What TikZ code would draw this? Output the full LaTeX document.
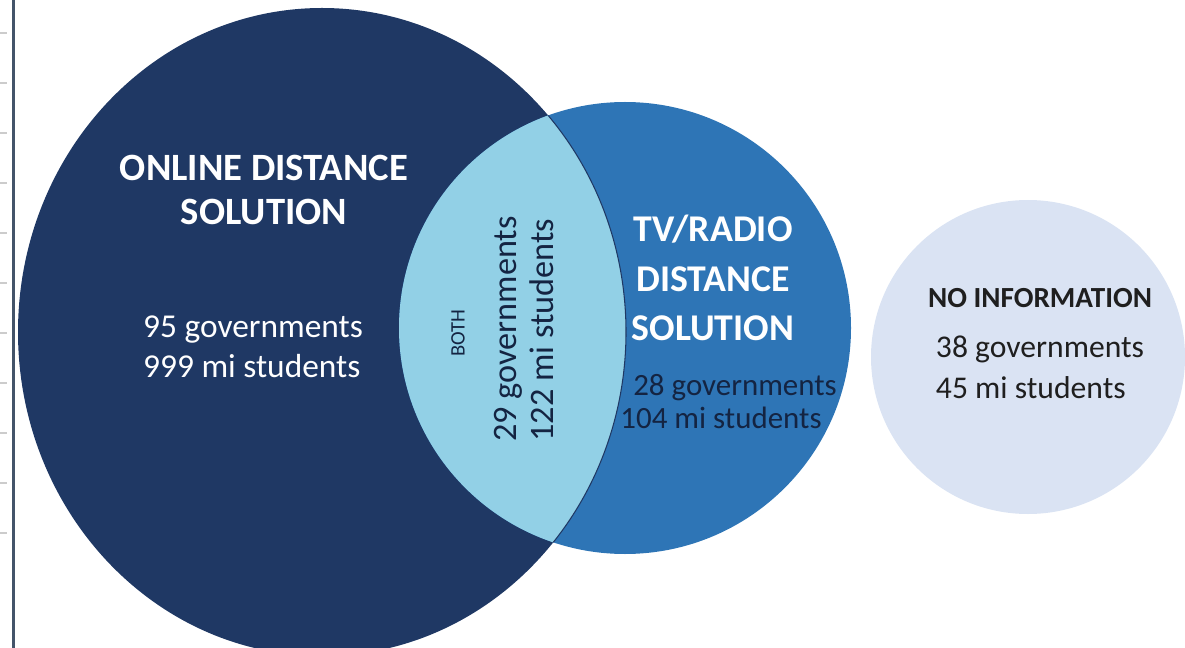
\documentclass[tikz,border=0pt]{standalone}
\usepackage{fontspec}
\setmainfont{Carlito}

\definecolor{online}{RGB}{31,56,100}
\definecolor{tvradio}{RGB}{46,117,182}
\definecolor{ambos}{RGB}{146,208,230}
\definecolor{seminfo}{RGB}{218,227,243}
\definecolor{margem}{RGB}{68,84,106}
\definecolor{tinta}{RGB}{20,36,66}

\tikzset{
  titulo/.style={inner sep=0pt, align=center, text=white,
    font=\bfseries\fontsize{22}{25.5}\selectfont},
  dados/.style={inner sep=0pt, align=left,
    font=\fontsize{19}{22.7}\selectfont},
}

\begin{document}
\begin{tikzpicture}[x=0.02cm, y=-0.02cm]
\useasboundingbox (0,0) rectangle (1185,648);
\clip (0,0) rectangle (1185,648);

% Margem da pagina
\draw[margem, line width=1.4pt] (13.5,0) -- (13.5,648);
\foreach \y in {33,83,...,533}
  \draw[black!20, line width=0.6pt] (0,\y) -- (7,\y);

% Circulo 1: solucao online
\fill[online] (322,332) ellipse [x radius=304, y radius=324];

% Circulo 2: TV/radio
\fill[tvradio] (625,328) circle [radius=226];

% Intersecao dos dois
\begin{scope}
  \clip (322,332) ellipse [x radius=304, y radius=324];
  \fill[ambos] (625,328) circle [radius=226];
\end{scope}
\begin{scope}
  \clip (625,328) circle [radius=226];
  \draw[online, line width=0.6pt] (322,332) ellipse [x radius=304, y radius=324];
\end{scope}

% Circulo 3: sem informacao
\fill[seminfo] (1028,357) circle [radius=157];

% Textos
\node[titulo] (onlinetit) at (264,190) {ONLINE DISTANCE\\SOLUTION};
\node[dados, text=white] (onlinedados) at (253,347) {95 governments\\999 mi students};

\node[inner sep=0pt, rotate=90, text=tinta, font=\fontsize{11.7}{12}\selectfont]
  (ambostit) at (458,333) {BOTH};
\node[dados, rotate=90, text=tinta, font=\fontsize{19.5}{21.5}\selectfont]
  (ambosdados) at (524,329) {29 governments\\122 mi students};

\node[titulo, font=\bfseries\fontsize{21.5}{28.3}\selectfont]
  (tvtit) at (713,278) {TV/RADIO\\DISTANCE\\SOLUTION};
\node[dados, text=tinta, font=\fontsize{17.6}{20}\selectfont] (tvgov) at (735,388) {28 governments};
\node[dados, text=tinta, font=\fontsize{17.6}{20}\selectfont] (tvalunos) at (721,418) {104 mi students};

\node[inner sep=0pt, text=black!88, font=\bfseries\fontsize{16.6}{20}\selectfont]
  (semtit) at (1040,298) {NO INFORMATION};
\node[dados, text=black!88, font=\fontsize{18}{23.2}\selectfont]
  (semdados) at (1040,367) {38 governments\\45 mi students};

\end{tikzpicture}
\end{document}
